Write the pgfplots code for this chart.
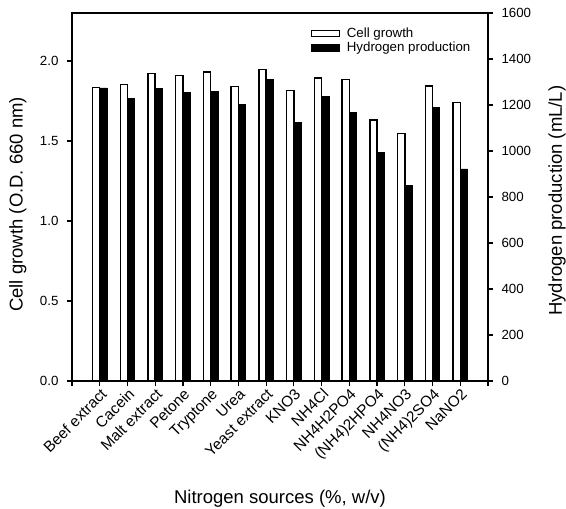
\documentclass[border=0pt]{standalone}
\usepackage{fontspec}
\setmainfont{Liberation Sans}
\usepackage{pgfplots}
\pgfplotsset{compat=1.18}

\newcommand{\tickfont}{\fontsize{13.3bp}{15bp}\selectfont}
\newcommand{\labfont}{\fontsize{18.5bp}{20bp}\selectfont}

\pgfplotsset{
  common/.style={
    scale only axis, width=416bp, height=368bp,
    xmin=0, xmax=15,
    tick align=outside, major tick length=5bp,
    axis line style={line width=1.4bp},
    every tick/.style={black, line width=1.2bp},
    tick label style={font=\tickfont},
    /pgf/number format/assume math mode=true,
    /pgf/number format/set thousands separator={},
  },
}

\begin{document}
\begin{tikzpicture}
% left axis: cell growth
\begin{axis}[common,
  ymin=0, ymax=2.3,
  ytick={0,0.5,1.0,1.5,2.0},
  yticklabel style={xshift=-5bp, /pgf/number format/.cd, fixed, fixed zerofill, precision=1},
  ytick pos=left, xtick pos=bottom,
  xtick={0,...,15},
  xticklabels={,Beef extract,Cacein,Malt extract,Petone,Tryptone,Urea,Yeast extract,KNO3,NH4Cl,NH4H2PO4,(NH4)2HPO4,NH4NO3,(NH4)2SO4,NaNO2,},
  xticklabel style={font=\fontsize{15.3bp}{17bp}\selectfont, rotate=45, anchor=north east, inner sep=1bp},
  xlabel={Nitrogen sources (\%, w/v)},
  xlabel style={font=\labfont, at={(axis description cs:0.5,0)}, anchor=base, yshift=-122bp},
  ylabel={Cell growth (O.D. 660 nm)},
  ylabel style={font=\labfont, at={(axis description cs:-0.130,0.48)}, anchor=center},
]
\addplot[ybar, bar width=0.26, bar shift=-0.13, draw=black, fill=white, line width=1.4bp] coordinates {
  (1,1.835) (2,1.854) (3,1.921) (4,1.910) (5,1.931) (6,1.840) (7,1.946)
  (8,1.815) (9,1.894) (10,1.885) (11,1.631) (12,1.546) (13,1.844) (14,1.742)};
\end{axis}
% right axis: hydrogen production
\begin{axis}[common,
  ymin=0, ymax=1600,
  ytick={0,200,...,1600},
  yticklabel style={xshift=5bp},
  axis x line=none, axis y line*=right,
  ylabel={Hydrogen production (mL/L)},
  ylabel style={font=\labfont, at={(axis description cs:1.166,0.49)}, anchor=center},
  legend style={at={(rel axis cs:0.97,0.97)}, anchor=north east, draw=none, fill=none,
    font=\fontsize{13.3bp}{15bp}\selectfont, row sep=-1bp},
  legend cell align=left,
]
\addlegendimage{legend image code/.code={\draw[black, fill=white, line width=1.2bp] (0bp,-3bp) rectangle (28bp,3bp); \path (33bp,0bp);}}
\addlegendentry{Cell growth}
\addlegendimage{legend image code/.code={\draw[black, fill=black] (0bp,-3.5bp) rectangle (28bp,3.5bp); \path (33bp,0bp);}}
\addlegendentry{Hydrogen production}
\addplot[ybar, bar width=0.26, bar shift=0.13, draw=black, fill=black, line width=0.6bp, forget plot] coordinates {
  (1,1274) (2,1227) (3,1273) (4,1255) (5,1258) (6,1203) (7,1313)
  (8,1123) (9,1238) (10,1167) (11,994) (12,849) (13,1190) (14,922)};
\end{axis}
\pgfresetboundingbox
\path (-72bp,-128bp) rectangle (494bp,381bp);
\end{tikzpicture}
\end{document}
